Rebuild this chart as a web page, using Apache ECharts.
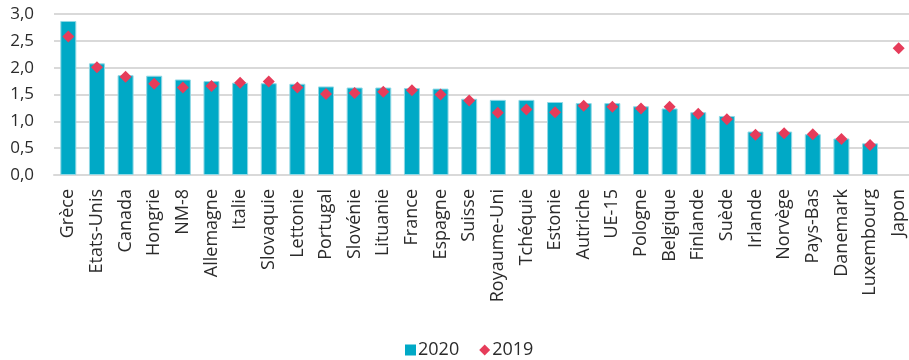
<!DOCTYPE html>
<html>
<head>
<meta charset="utf-8">
<script src="https://cdn.jsdelivr.net/npm/echarts@6/dist/echarts.min.js"></script>
<style>
  html, body { margin: 0; padding: 0; background: #fff; }
  #chart { width: 909px; height: 360px; }
</style>
</head>
<body>
<div id="chart"></div>
<script>
// Countries, ordered by the 2020 value
const categories = ['Grèce', 'Etats-Unis', 'Canada', 'Hongrie', 'NM-8', 'Allemagne', 'Italie', 'Slovaquie',
  'Lettonie', 'Portugal', 'Slovénie', 'Lituanie', 'France', 'Espagne', 'Suisse', 'Royaume-Uni', 'Tchéquie',
  'Estonie', 'Autriche', 'UE-15', 'Pologne', 'Belgique', 'Finlande', 'Suède', 'Irlande', 'Norvège',
  'Pays-Bas', 'Danemark', 'Luxembourg', 'Japon'];

const values2020 = [2.87, 2.08, 1.86, 1.85, 1.78, 1.75, 1.72, 1.71, 1.70, 1.65, 1.63, 1.63, 1.62, 1.61,
  1.42, 1.40, 1.40, 1.36, 1.34, 1.34, 1.28, 1.24, 1.17, 1.10, 0.81, 0.81, 0.76, 0.68, 0.59, null];

const values2019 = [2.58, 2.01, 1.83, 1.70, 1.63, 1.66, 1.72, 1.74, 1.63, 1.51, 1.53, 1.55, 1.58, 1.50,
  1.39, 1.16, 1.22, 1.17, 1.29, 1.27, 1.24, 1.27, 1.14, 1.04, 0.75, 0.78, 0.76, 0.67, 0.56, 2.36];

const seriesNames = ['2020', '2019'];
const yTicks = { min: 0, max: 3, interval: 0.5 };

const textColor = '#2b2b2b';
const gridColor = '#d9d9d9';
const barColor = '#00a9c6';
const markerColor = '#e63c5a';
const font = 'Open Sans';

const chart = echarts.init(document.getElementById('chart'), null, { renderer: 'canvas' });
chart.setOption({
  animation: false,
  textStyle: { fontFamily: font, color: textColor },
  grid: { left: 54, top: 14, width: 859, height: 161, containLabel: false, outerBoundsMode: 'none' },
  legend: {
    left: 400, top: 336,
    itemWidth: 11, itemHeight: 11, itemGap: 20,
    textStyle: { fontFamily: font, fontSize: 18, color: textColor, padding: [0, 0, 0, -3] },
    data: [
      { name: seriesNames[0], icon: 'rect', itemStyle: { color: barColor, borderWidth: 0 } },
      { name: seriesNames[1], icon: 'diamond', itemStyle: { color: markerColor, opacity: 1 } }
    ]
  },
  xAxis: {
    type: 'category',
    data: categories,
    boundaryGap: true,
    axisLine: { lineStyle: { color: gridColor, width: 2 } },
    axisTick: { show: false },
    axisLabel: { rotate: 90, margin: 14, fontFamily: font, fontSize: 18, color: textColor, interval: 0 }
  },
  yAxis: {
    type: 'value',
    min: yTicks.min, max: yTicks.max, interval: yTicks.interval,
    axisLine: { show: false },
    axisTick: { show: false },
    splitLine: { lineStyle: { color: gridColor, width: 2 } },
    axisLabel: {
      margin: 20, fontFamily: font, fontSize: 17, color: textColor,
      formatter: v => v.toFixed(1).replace('.', ',')
    }
  },
  series: [
    {
      name: seriesNames[0],
      type: 'bar',
      data: values2020,
      barWidth: 16,
      itemStyle: { color: barColor, borderColor: '#8fd8e5', borderWidth: 1 }
    },
    {
      name: seriesNames[1],
      type: 'scatter',
      data: values2019,
      symbol: 'diamond',
      symbolSize: 12,
      itemStyle: { color: markerColor, opacity: 1 },
      z: 3
    }
  ]
});
</script>
</body>
</html>
